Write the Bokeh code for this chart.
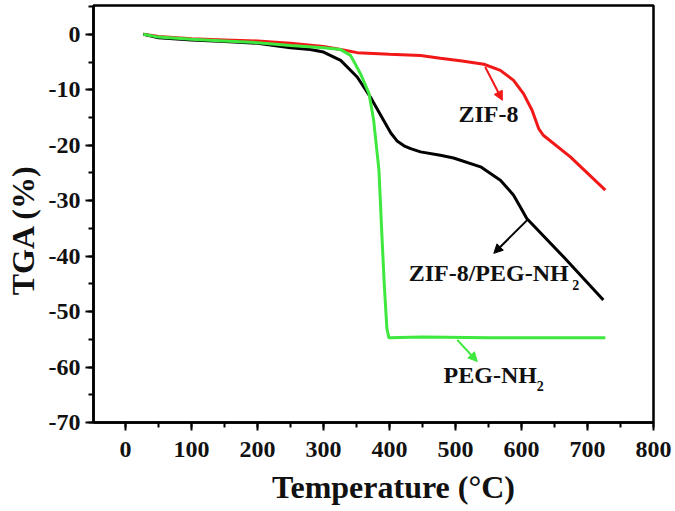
from bokeh.plotting import figure
from bokeh.models import Range1d, SingleIntervalTicker, Arrow, NormalHead, CustomJSTickFormatter
from bokeh.core.properties import value
from bokeh.embed import file_html
from bokeh.resources import INLINE

# ZIF-8 (red)
zif_t = [27, 50, 100, 150, 200, 250, 300, 326, 351, 400, 447, 477, 510, 543, 568, 588, 603, 616, 626, 633, 674, 727]
zif_w = [0, -0.4, -0.8, -1.0, -1.2, -1.6, -2.2, -2.75, -3.3, -3.6, -3.8, -4.3, -4.8, -5.4, -6.5, -8.3, -10.7, -13.7, -17.0, -18.2, -22.1, -28.1]

# ZIF-8/PEG-NH2 (black)
zp_t = [27, 50, 100, 150, 200, 250, 280, 300, 326, 351, 371, 391, 402, 412, 422, 432, 447, 477, 497, 538, 568, 588, 598, 608, 665, 724]
zp_w = [0, -0.6, -1.0, -1.3, -1.6, -2.4, -2.75, -3.2, -4.7, -7.7, -11.3, -15.5, -17.8, -19.3, -20.1, -20.6, -21.2, -21.8, -22.3, -23.9, -26.3, -29.0, -31.1, -33.2, -40.3, -47.9]

# PEG-NH2 (green)
peg_t = [27, 50, 100, 150, 200, 250, 300, 326, 341, 356, 369, 376, 384, 388, 392, 396, 399, 450, 550, 727]
peg_w = [0, -0.5, -0.9, -1.2, -1.5, -2.0, -2.4, -2.75, -3.8, -7.1, -10.7, -15.5, -24.5, -35.0, -45.0, -53.0, -54.7, -54.6, -54.7, -54.7]

# annotations
arrow_x0 = [545, 608.6, 502.6]
arrow_y0 = [-5.9, -33.5, -55.1]
arrow_x1 = [571, 558, 533]
arrow_y1 = [-11.9, -39.5, -59.0]
arrow_colors = ["#f21818", "#000000", "#3ee83e"]

label_text = ["ZIF-8/PEG-NH", "PEG-NH"]
label_x = [429, 482]
label_y = [-43.0, -61.5]
sub_text = ["2", "2"]
sub_x = [677, 623]
sub_y = [-45.2, -63.4]

NBSP = "\u00a0"
x_title = NBSP * 5 + "Temperature (°C)"
y_title = "TGA (%)" + NBSP * 4

FONT = "Liberation Serif"

p = figure(width=675, height=511, output_backend="svg", toolbar_location=None,
           x_range=Range1d(-48.5, 800), y_range=Range1d(-70, 5.2),
           min_border_left=93, min_border_right=22, min_border_top=5, min_border_bottom=89)
p.grid.visible = False
p.background_fill_color = "white"
p.border_fill_color = "white"
p.outline_line_color = "black"
p.outline_line_width = 2.5

p.line(zif_t, zif_w, line_color="#f21818", line_width=3)
p.line(zp_t, zp_w, line_color="black", line_width=3)
p.line(peg_t, peg_w, line_color="#3ee83e", line_width=3)

for i in range(len(arrow_x0)):
    p.add_layout(Arrow(end=NormalHead(size=9, fill_color=arrow_colors[i], line_color=arrow_colors[i]),
                       x_start=arrow_x0[i], y_start=arrow_y0[i], x_end=arrow_x1[i], y_end=arrow_y1[i],
                       line_color=arrow_colors[i], line_width=2))

p.text(x=[550], y=[-14.4], text=["ZIF-8"], text_font=value(FONT), text_font_style="bold",
       text_font_size="24px", text_align="center", text_baseline="middle", text_color="#111111")
p.text(x=label_x, y=label_y, text=label_text, text_font=value(FONT), text_font_style="bold",
       text_font_size="24px", text_align="left", text_baseline="middle", text_color="#111111")
p.text(x=sub_x, y=sub_y, text=sub_text, text_font=value(FONT), text_font_style="bold",
       text_font_size="14px", text_align="left", text_baseline="middle", text_color="#111111")

p.xaxis.ticker = SingleIntervalTicker(interval=100, num_minor_ticks=2)
p.yaxis.ticker = SingleIntervalTicker(interval=10, num_minor_ticks=2)
p.xaxis.formatter = CustomJSTickFormatter(code="return tick.toFixed(0);")
p.yaxis.formatter = CustomJSTickFormatter(code="return tick.toFixed(0);")
p.xaxis.axis_label = x_title
p.yaxis.axis_label = y_title
for ax in (p.xaxis[0], p.yaxis[0]):
    ax.axis_line_width = 2.5
    ax.axis_line_color = "black"
    ax.major_tick_in = 0
    ax.major_tick_out = 8
    ax.minor_tick_in = 0
    ax.minor_tick_out = 5
    ax.major_tick_line_width = 2
    ax.minor_tick_line_width = 2
    ax.major_label_text_font = FONT
    ax.major_label_text_font_style = "bold"
    ax.major_label_text_font_size = "24px"
    ax.major_label_text_color = "#111111"
    ax.major_label_text_line_height = 1.0
    ax.axis_label_text_font = FONT
    ax.axis_label_text_font_style = "bold"
    ax.axis_label_text_font_size = "32px"
    ax.axis_label_text_color = "#111111"
    ax.axis_label_text_line_height = 1.0
p.xaxis.major_label_standoff = 11
p.yaxis.major_label_standoff = 5
p.xaxis.axis_label_standoff = 9
p.yaxis.axis_label_standoff = 5

open("out.html", "w").write(file_html(p, INLINE))
